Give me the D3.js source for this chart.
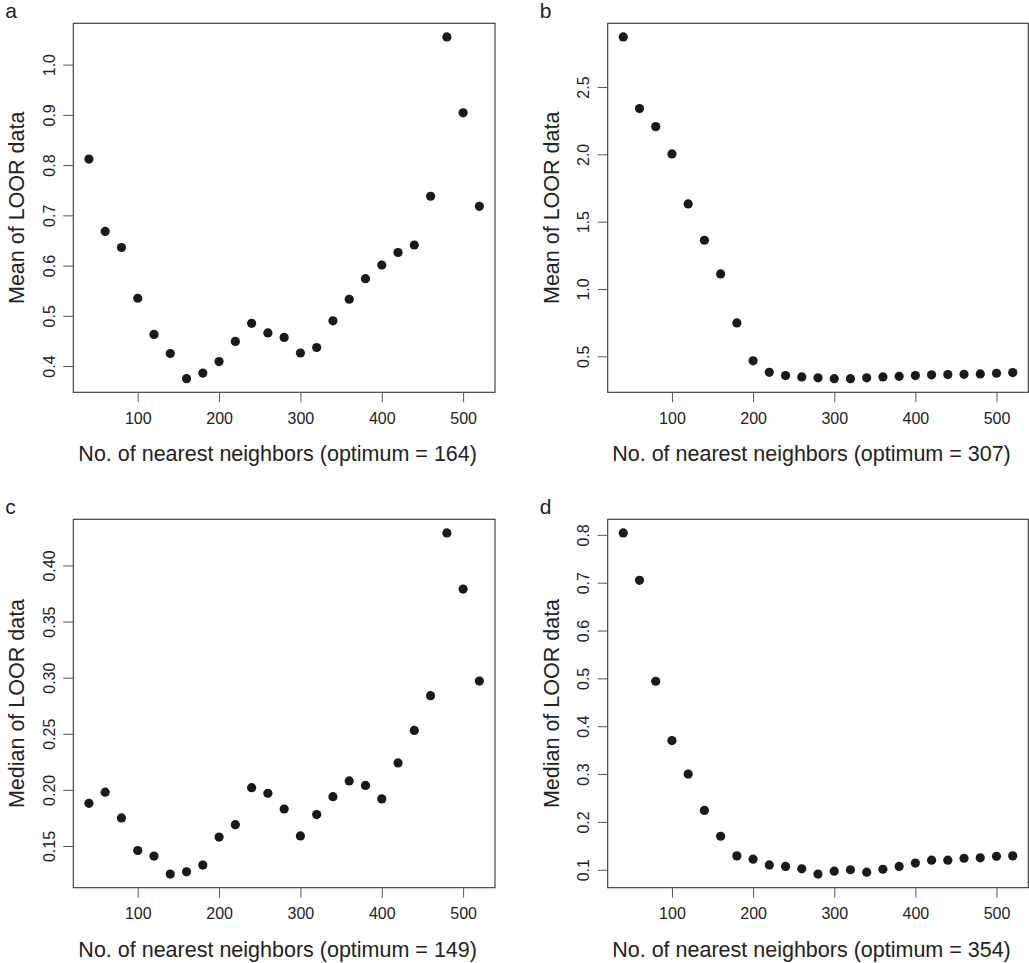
<!DOCTYPE html>
<html lang="en">
<head>
<meta charset="UTF-8">
<title>LOOR vs nearest neighbors</title>
<script src="https://d3js.org/d3.v7.min.js"></script>
<style>
  html, body { margin: 0; background: #fff; overflow: hidden; }
  text { font-family: "Liberation Sans", Arial, sans-serif; fill: #222; }
</style>
</head>
<body>
<svg id="svg"></svg>
<script>
// neighbour counts (shared by all four panels)
const neighbors = [40, 60, 80, 100, 120, 140, 160, 180, 200, 220, 240, 260, 280,
                   300, 320, 340, 360, 380, 400, 420, 440, 460, 480, 500, 520];

const meanA = [0.812, 0.668, 0.636, 0.535, 0.463, 0.425, 0.375, 0.386, 0.409, 0.449,
               0.485, 0.466, 0.457, 0.426, 0.437, 0.490, 0.533, 0.574, 0.601, 0.626,
               0.641, 0.738, 1.055, 0.904, 0.718];
const meanB = [2.872, 2.340, 2.206, 2.003, 1.632, 1.362, 1.112, 0.748, 0.466, 0.381,
               0.357, 0.347, 0.340, 0.334, 0.334, 0.340, 0.347, 0.351, 0.357, 0.362,
               0.364, 0.366, 0.369, 0.374, 0.379];
const medianC = [0.188, 0.198, 0.175, 0.146, 0.141, 0.125, 0.127, 0.133, 0.158, 0.169,
                 0.202, 0.197, 0.183, 0.159, 0.178, 0.194, 0.208, 0.204, 0.192, 0.224,
                 0.253, 0.284, 0.429, 0.379, 0.297];
const medianD = [0.804, 0.705, 0.494, 0.370, 0.300, 0.224, 0.170, 0.129, 0.122, 0.110,
                 0.107, 0.102, 0.091, 0.097, 0.100, 0.095, 0.101, 0.107, 0.114, 0.120,
                 0.120, 0.124, 0.125, 0.128, 0.129];

const xTicks = [100, 200, 300, 400, 500];
const yTicksA = [0.4, 0.5, 0.6, 0.7, 0.8, 0.9, 1.0];
const yTicksB = [0.5, 1.0, 1.5, 2.0, 2.5];
const yTicksC = [0.15, 0.20, 0.25, 0.30, 0.35, 0.40];
const yTicksD = [0.1, 0.2, 0.3, 0.4, 0.5, 0.6, 0.7, 0.8];

const panels = [
  { letter: 'a', values: meanA, yTicks: yTicksA, fmt: '.1f', ylab: 'Mean of LOOR data', opt: 164,
    box: { left: 73.3, right: 495, top: 23.3, bottom: 392.3 } },
  { letter: 'b', values: meanB, yTicks: yTicksB, fmt: '.1f', ylab: 'Mean of LOOR data', opt: 307,
    box: { left: 607.7, right: 1028.3, top: 23.3, bottom: 392.3 } },
  { letter: 'c', values: medianC, yTicks: yTicksC, fmt: '.2f', ylab: 'Median of LOOR data', opt: 149,
    box: { left: 73.3, right: 495, top: 519.3, bottom: 887.7 } },
  { letter: 'd', values: medianD, yTicks: yTicksD, fmt: '.1f', ylab: 'Median of LOOR data', opt: 354,
    box: { left: 607.7, right: 1028.3, top: 519.3, bottom: 887.7 } }
];

const svg = d3.select('#svg').attr('width', 1029).attr('height', 963);

// R-style 4% padding around the data range
const pad = ext => {
  const r = ext[1] - ext[0];
  return [ext[0] - r * 0.04, ext[1] + r * 0.04];
};

panels.forEach(p => {
  const b = p.box;
  const x = d3.scaleLinear().domain(pad(d3.extent(neighbors))).range([b.left, b.right]);
  const y = d3.scaleLinear().domain(pad(d3.extent(p.values))).range([b.bottom, b.top]);
  const g = svg.append('g');

  g.append('rect')
    .attr('x', b.left).attr('y', b.top)
    .attr('width', b.right - b.left).attr('height', b.bottom - b.top)
    .attr('fill', 'none').attr('stroke', '#333').attr('stroke-width', 1.1);

  // x axis
  const xa = g.append('g').attr('transform', `translate(0,${b.bottom})`)
    .call(d3.axisBottom(x).tickValues(xTicks).tickSize(10).tickPadding(0).tickFormat(d3.format('d')));
  xa.select('.domain').remove();
  xa.selectAll('line').attr('stroke', '#555');
  xa.selectAll('text').attr('y', 31.5).attr('dy', null).attr('font-size', '16px').attr('fill', '#222');

  // y axis
  const ya = g.append('g').attr('transform', `translate(${b.left},0)`)
    .call(d3.axisLeft(y).tickValues(p.yTicks).tickSize(10).tickFormat(d3.format(p.fmt)));
  ya.select('.domain').remove();
  ya.selectAll('line').attr('stroke', '#555');
  ya.selectAll('text')
    .attr('x', null).attr('dy', null)
    .attr('text-anchor', 'middle').attr('font-size', '16px').attr('fill', '#222')
    .attr('transform', 'translate(-18.5,0) rotate(-90)');

  g.append('text')
    .attr('x', (b.left + b.right) / 2 - 6.5).attr('y', b.bottom + 69)
    .attr('text-anchor', 'middle').attr('font-size', '21.5px')
    .text(`No. of nearest neighbors (optimum = ${p.opt})`);

  g.append('text')
    .attr('transform', `translate(${b.left - 49},${(b.top + b.bottom) / 2}) rotate(-90)`)
    .attr('text-anchor', 'middle').attr('font-size', '21.5px')
    .text(p.ylab);

  g.append('text')
    .attr('x', b.left - 68).attr('y', b.top - 5)
    .attr('font-size', '21px')
    .text(p.letter);

  g.selectAll('circle').data(neighbors).join('circle')
    .attr('cx', d => x(d))
    .attr('cy', (d, i) => y(p.values[i]))
    .attr('r', 4.6)
    .attr('fill', '#1a1a1a');
});
</script>
</body>
</html>
